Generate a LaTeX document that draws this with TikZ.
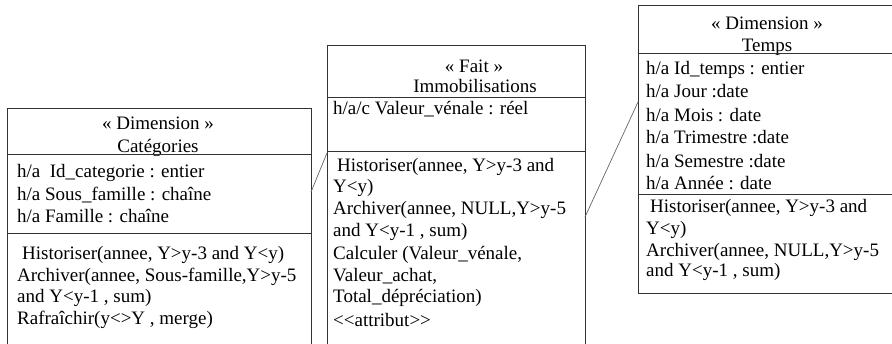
\documentclass[tikz,border=0pt]{standalone}
\usepackage{fontspec}
\setmainfont{Liberation Serif}
\begin{document}
\begin{tikzpicture}[x=1pt,y=-1pt,
  boxline/.style={draw=black!80, line width=0.8pt},
  conn/.style={draw=black!60, line width=0.7pt},
  txt/.style={anchor=west, inner sep=0pt, text height=13pt, text depth=4pt, font=\fontsize{19}{22}\selectfont},
  hdr/.style={anchor=center, inner sep=0pt, text height=13pt, text depth=4pt, font=\fontsize{19}{22}\selectfont}]
\useasboundingbox (0,0) rectangle (892,344);
\clip (0,0) rectangle (892,344);

% ---------- Box 1 : Categories ----------
\draw[boxline] (7,360) -- (7,108) -- (311,108) -- (311,360);
\node[hdr] (b1h1) at (158,125) {« Dimension »};
\node[hdr] (b1h2) at (158,148) {Catégories};
\draw[boxline] (7,154) -- (311,154);
\node[txt] (b1a1) at (17,173) {h/a\ \ Id\_categorie : entier};
\node[txt] (b1a2) at (17,196) {h/a Sous\_famille : chaîne};
\node[txt] (b1a3) at (17,218) {h/a Famille : chaîne};
\draw[boxline] (7,233) -- (311,233);
\node[txt] (b1m1) at (22,255) {Historiser(annee, Y>y-3 and Y<y)};
\node[txt] (b1m2) at (17,277) {Archiver(annee, Sous-famille,Y>y-5};
\node[txt] (b1m3) at (17,298) {and Y<y-1 , sum)};
\node[txt] (b1m4) at (17,320) {Rafraîchir(y<>Y , merge)};

% ---------- Box 2 : Immobilisations ----------
\draw[boxline] (327,360) -- (327,45) -- (585,45) -- (585,360);
\node[hdr] (b2h1) at (474,68) {« Fait »};
\node[hdr] (b2h2) at (475,88) {Immobilisations};
\draw[boxline] (327,97) -- (585,97);
\node[txt] (b2a1) at (333,110) {h/a/c Valeur\_vénale : réel};
\draw[boxline] (327,151) -- (585,151);
\node[txt] (b2m1) at (337,167) {Historiser(annee, Y>y-3 and};
\node[txt] (b2m2) at (333,188) {Y<y)};
\node[txt] (b2m3) at (333,210) {Archiver(annee, NULL,Y>y-5};
\node[txt] (b2m4) at (333,232) {and Y<y-1 , sum)};
\node[txt] (b2m5) at (333,255) {Calculer (Valeur\_vénale,};
\node[txt] (b2m6) at (333,277) {Valeur\_achat,};
\node[txt] (b2m7) at (333,298) {Total\_dépréciation)};
\node[txt] (b2m8) at (333,322) {<\kern0pt<attribut>\kern0pt>};

% ---------- Box 3 : Temps ----------
\draw[boxline] (900,293) -- (638,293) -- (638,5) -- (900,5);
\node[hdr] (b3h1) at (767,25) {« Dimension »};
\node[hdr] (b3h2) at (767,47) {Temps};
\draw[boxline] (638,53) -- (900,53);
\node[txt] (b3a1) at (646,70) {h/a Id\_temps : entier};
\node[txt] (b3a2) at (646,93) {h/a Jour :date};
\node[txt] (b3a3) at (646,117) {h/a Mois : date};
\node[txt] (b3a4) at (646,139) {h/a Trimestre :date};
\node[txt] (b3a5) at (646,163) {h/a Semestre :date};
\node[txt] (b3a6) at (646,185) {h/a Année : date};
\draw[boxline] (638,194) -- (900,194);
\node[txt] (b3m1) at (650,208) {Historiser(annee, Y>y-3 and};
\node[txt] (b3m2) at (646,230) {Y<y)};
\node[txt] (b3m3) at (646,252) {Archiver(annee, NULL,Y>y-5};
\node[txt] (b3m4) at (646,272) {and Y<y-1 , sum)};

% ---------- connectors ----------
\coordinate (c1s) at (311,192);
\coordinate (c1e) at (327,153);
\coordinate (c2s) at (585,217);
\coordinate (c2e) at (638,102);
\draw[conn] (c1s) -- (c1e);
\draw[conn] (c2s) -- (c2e);
\end{tikzpicture}
\end{document}
